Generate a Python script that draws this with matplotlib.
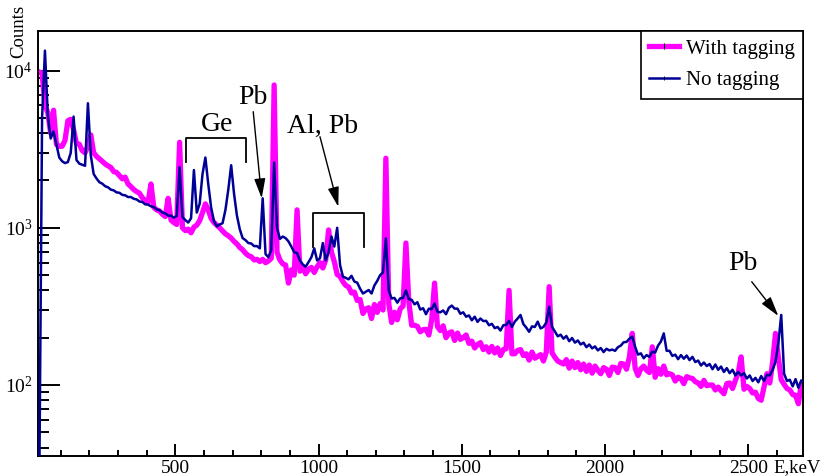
import numpy as np
import matplotlib
matplotlib.use("Agg")
import matplotlib.pyplot as plt
from matplotlib.ticker import MultipleLocator, LogLocator, NullFormatter
from matplotlib.lines import Line2D

plt.rcParams['font.family'] = ['Liberation Serif', 'DejaVu Serif']
plt.rcParams['mathtext.fontset'] = 'custom'
plt.rcParams['mathtext.rm'] = 'Liberation Serif'

# ---- data: 10 keV bins from 20 to 2700 keV ----
bin_lo, bin_hi, bin_w = 20, 2700, 10

no_tagging = [
    # 20-100
    20, 5000, 13400, 5200, 3700, 4100, 3400, 2800,
    # 100-200
    2650, 2580, 2620, 3000, 5100, 2700, 2560, 2520, 2480, 6200,
    # 200-300
    2900, 2200, 2060, 1950, 1910, 1840, 1810, 1750, 1730, 1680,
    # 300-400
    1670, 1620, 1610, 1570, 1570, 1530, 1515, 1470, 1460, 1410,
    # 400-500
    1405, 1370, 1355, 1310, 1295, 1250, 1235, 1195, 1195, 1160,
    # 500-600
    1190, 2430, 1170, 1120, 1080, 1150, 2330, 1250, 1420, 2200,
    # 600-700
    2800, 1900, 1350, 1100, 1020, 1050, 1070, 1300, 1750, 2500,
    # 700-800
    1650, 1200, 980, 860, 835, 800, 795, 765, 765, 740,
    # 800-900
    1540, 680, 650, 720, 2600, 1000, 850, 880, 860, 820,
    # 900-1000
    760, 700, 690, 620, 585, 565, 605, 650, 740, 620,
    # 1000-1100
    640, 800, 620, 700, 880, 760, 1000, 580, 490, 480,
    # 1100-1200
    470, 495, 455, 448, 410, 382, 392, 402, 382, 430,
    # 1200-1300
    460, 500, 520, 857, 400, 355, 358, 334, 356, 358,
    # 1300-1400
    400, 352, 348, 326, 336, 302, 308, 282, 306, 304,
    # 1400-1500
    330, 292, 290, 298, 282, 310, 320, 306, 306, 284,
    # 1500-1600
    290, 272, 277, 258, 272, 252, 265, 255, 256, 240,
    # 1600-1700
    245, 230, 234, 222, 240, 241, 256, 234, 253, 265,
    # 1700-1800
    279, 244, 232, 218, 236, 234, 253, 229, 234, 250,
    # 1800-1900
    315, 234, 219, 204, 209, 197, 205, 190, 199, 186,
    # 1900-2000
    192, 181, 186, 174, 181, 171, 176, 166, 172, 162,
    # 2000-2100
    170, 166, 168, 165, 174, 178, 187, 188, 197, 203,
    # 2100-2200
    175, 156, 159, 148, 155, 151, 163, 161, 178, 189,
    # 2200-2300
    213, 165, 165, 153, 156, 146, 155, 147, 154, 144,
    # 2300-2400
    151, 140, 143, 133, 139, 132, 136, 126, 135, 125,
    # 2400-2500
    131, 121, 128, 119, 125, 115, 121, 115, 119, 110,
    # 2500-2600
    115, 106, 111, 104, 114, 106, 116, 115, 125, 140,
    # 2600-2700
    185, 279, 118, 106, 108, 98, 109, 96, 107, 105,
]

with_tagging = [
    # 20-100
    9800, 9600, 6000, 5400, 4000, 5600, 3400, 3300,
    # 100-200
    3300, 3600, 4800, 4900, 4200, 3450, 3400, 3100, 3000, 3300,
    # 200-300
    3900, 3000, 2850, 2750, 2650, 2550, 2480, 2420, 2280, 2250,
    # 300-400
    2150, 2050, 2100, 1900, 1830, 1750, 1700, 1660, 1550, 1500,
    # 400-500
    1450, 1900, 1350, 1300, 1280, 1220, 1180, 1540, 1120, 1080,
    # 500-600
    1050, 3500, 1000, 960, 980, 930, 1010, 1040, 1110, 1250,
    # 600-700
    1420, 1300, 1150, 1080, 1040, 1000, 955, 915, 890, 860,
    # 700-800
    820, 790, 750, 725, 690, 665, 655, 625, 630, 610,
    # 800-900
    630, 600, 615, 640, 8100, 700, 625, 590, 580, 445,
    # 900-1000
    540, 500, 1300, 530, 565, 510, 545, 560, 520, 565,
    # 1000-1100
    600, 555, 625, 970, 700, 610, 505, 490, 455, 430,
    # 1100-1200
    420, 385, 390, 345, 350, 285, 305, 310, 265, 325,
    # 1200-1300
    290, 330, 300, 2770, 330, 250, 290, 260, 305, 318,
    # 1300-1400
    800, 340, 240, 240, 236, 218, 225, 226, 208, 260,
    # 1400-1500
    445, 235, 222, 238, 200, 214, 218, 192, 214, 195,
    # 1500-1600
    200, 208, 184, 190, 172, 181, 186, 168, 175, 162,
    # 1600-1700
    176, 160, 172, 154, 168, 170, 400, 158, 158, 166,
    # 1700-1800
    168, 154, 158, 144, 162, 148, 152, 156, 142, 162,
    # 1800-1900
    422, 160, 150, 142, 139, 136, 145, 128, 142, 129,
    # 1900-2000
    139, 125, 136, 122, 134, 119, 132, 124, 118, 129,
    # 2000-2100
    126, 115, 130, 129, 120, 137, 136, 126, 150, 213,
    # 2100-2200
    128, 115, 127, 132, 124, 120, 175, 112, 127, 117,
    # 2200-2300
    132, 116, 118, 116, 106, 112, 110, 102, 113, 111,
    # 2300-2400
    110, 105, 103, 98, 107, 99, 100, 100, 93, 97,
    # 2400-2500
    92, 88, 102, 103, 95, 107, 120, 151, 94, 98,
    # 2500-2600
    95, 89, 90, 82, 80, 97, 118, 103, 140, 213,
    # 2600-2700
    150, 108, 101, 95, 93, 87, 86, 76, 102, 88,
]

series_labels = ["With tagging", "No tagging"]
x_ticks = [500, 1000, 1500, 2000, 2500]

edges = np.arange(bin_lo, bin_hi + bin_w, bin_w)
centers = 0.5 * (edges[:-1] + edges[1:])

fig = plt.figure(figsize=(8.25, 4.76), dpi=100)
ax = fig.add_axes([38.3 / 825, 1 - 455.7 / 476, (803 - 38.3) / 825, (455.7 - 30.7) / 476])

ax.plot(centers, with_tagging, color='#ff00ff', lw=3.8, zorder=2)
ax.plot(centers, no_tagging, color='#000099', lw=1.8, zorder=3)

ax.set_yscale('log')
ax.set_xlim(21.8, 2691)
ax.set_ylim(35.5, 17945)

ax.xaxis.set_minor_locator(MultipleLocator(100))
ax.set_xticks(x_ticks)
ax.yaxis.set_major_locator(LogLocator(base=10))
ax.yaxis.set_minor_locator(LogLocator(base=10, subs=np.arange(2, 10)))
ax.yaxis.set_minor_formatter(NullFormatter())

ax.tick_params(axis='both', which='both', direction='in', top=False, right=False, width=1.4)
ax.tick_params(axis='x', which='major', length=8.6, labelsize=14, pad=3)
ax.tick_params(axis='x', which='minor', length=4.3)
ax.tick_params(axis='y', which='major', length=15.8, labelsize=14, pad=4)
ax.tick_params(axis='y', which='minor', length=7.9)
for sp in ax.spines.values():
    sp.set_linewidth(1.4)

fig.text(18.3 / 825, 1 - 31 / 476, "Counts", rotation=90, ha='center', va='center', fontsize=13.5)
fig.text(821 / 825, 1 - 468 / 476, "E,keV", ha='right', va='center', fontsize=13.5)

# legend
handles = [
    Line2D([], [], color='#ff00ff', lw=3.8, marker='|', ms=4, mec='black', mew=0.8),
    Line2D([], [], color='#000099', lw=1.8, marker='|', ms=3, mec='black', mew=0.6),
]
leg = ax.legend(handles, series_labels, loc='upper right', bbox_to_anchor=(1, 1),
                borderaxespad=0, fontsize=15, frameon=True, fancybox=False,
                edgecolor='black', framealpha=1, handlelength=1.4, handletextpad=0.35,
                borderpad=0.4, labelspacing=0.58)
leg.get_frame().set_linewidth(1.2)

# annotations
ann_fs = 20
arrow = dict(arrowstyle='-|>,head_length=0.6,head_width=0.17', color='black',
             lw=1.0, mutation_scale=20, shrinkA=0, shrinkB=0)

# Ge bracket
ax.plot([537, 537, 746, 746], [2634, 3710, 3710, 2634], color='black', lw=1.3)
ax.text(644.5, 4570, "Ge", fontsize=ann_fs, ha='center', va='center')

# Pb (803 keV)
ax.text(771, 6700, "Pb", fontsize=ann_fs, ha='center', va='center')
ax.annotate('', xy=(801.6, 1541), xytext=(772, 5480), arrowprops=arrow)

# Al, Pb bracket
ax.plot([980.6, 980.6, 1158.6, 1158.6], [755, 1236, 1236, 755], color='black', lw=1.3)
ax.text(1013.8, 4405, "Al, Pb", fontsize=ann_fs, ha='center', va='center')
ax.annotate('', xy=(1069, 1361), xytext=(1005, 3797), arrowprops=arrow)

# Pb (2614 keV)
ax.text(2481, 597, "Pb", fontsize=ann_fs, ha='center', va='center')
ax.annotate('', xy=(2605, 275), xytext=(2512, 454), arrowprops=arrow)

fig.savefig("out.png", dpi=100)
